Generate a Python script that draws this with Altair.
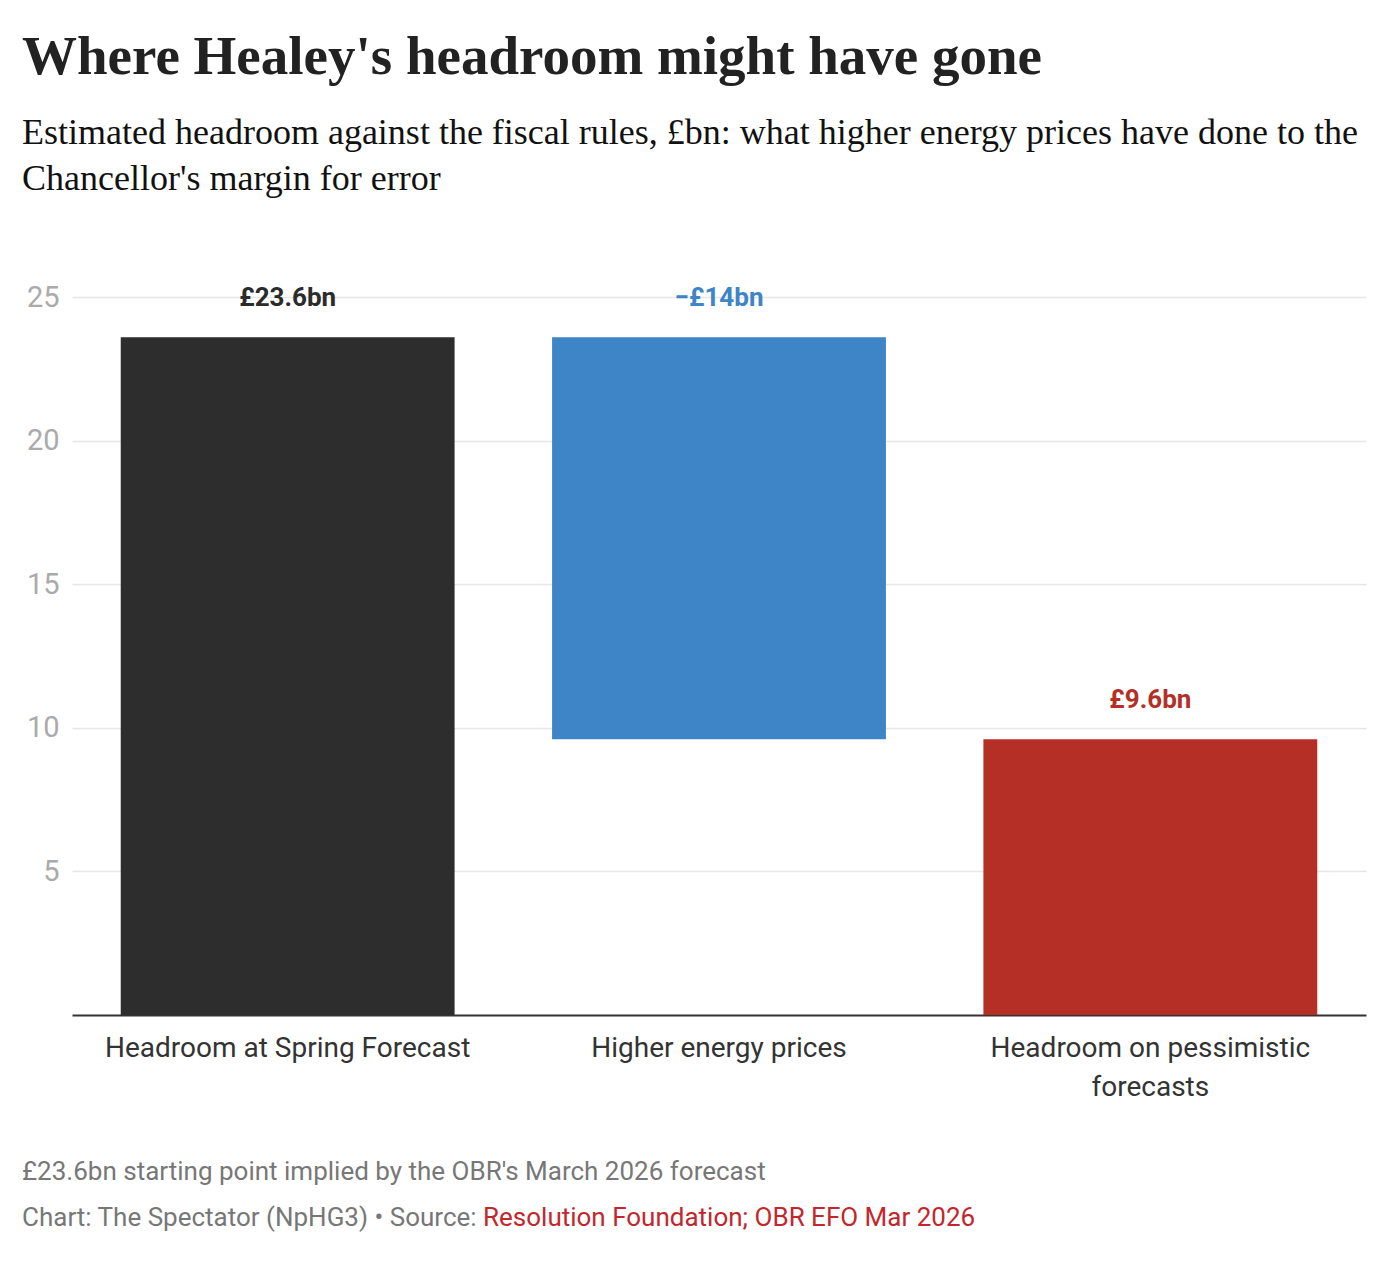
import altair as alt
import pandas as pd

categories = ["Headroom at Spring Forecast", "Higher energy prices", "Headroom on pessimistic forecasts"]
bar_start = [0.0, 9.6, 0.0]
bar_end = [23.6, 23.6, 9.6]
value_labels = ["£23.6bn", "\u2212£14bn", "£9.6bn"]
bar_colors = ["#2d2d2d", "#3d85c6", "#b52f27"]
label_colors = ["#2b2b2b", "#3d85c6", "#b52f27"]
y_ticks = [5, 10, 15, 20, 25]

title_text = "Where Healey's headroom might have gone"
subtitle_lines = [
    "Estimated headroom against the fiscal rules, £bn: what higher energy prices have done to the",
    "Chancellor's margin for error",
]
note_text = "£23.6bn starting point implied by the OBR's March 2026 forecast"
credit_text = "Chart: The Spectator (NpHG3) \u2022 Source: "
source_text = "Resolution Foundation; OBR EFO Mar 2026"

df = pd.DataFrame({
    "category": categories,
    "start": bar_start,
    "end": bar_end,
    "label": value_labels,
    "bar_color": bar_colors,
    "label_color": label_colors,
})
df["top"] = df[["start", "end"]].max(axis=1)

W, H = 1294, 718

x_enc = alt.X(
    "category:N",
    sort=categories,
    scale=alt.Scale(paddingInner=0.226, paddingOuter=0.113),
    axis=alt.Axis(
        title=None,
        labelAngle=0,
        labelFont="Roboto",
        labelFontSize=28,
        labelColor="#333333",
        labelPadding=19,
        labelLineHeight=39,
        labelLimit=500,
        ticks=False,
        grid=False,
        domainColor="#333333",
        domainWidth=2,
        labelExpr="datum.label == 'Headroom on pessimistic forecasts' ? ['Headroom on pessimistic', 'forecasts'] : datum.label",
    ),
)

y_scale = alt.Scale(domain=[0, 25], nice=False, zero=True)

bars = alt.Chart(df).mark_bar().encode(
    x=x_enc,
    y=alt.Y(
        "start:Q",
        scale=y_scale,
        axis=alt.Axis(
            title=None,
            values=y_ticks,
            domain=False,
            ticks=False,
            labelFont="Roboto",
            labelFontSize=29,
            labelColor="#aaaaaa",
            labelPadding=13,
            gridColor="#e6e6e6",
            gridWidth=1.5,
        ),
    ),
    y2="end:Q",
    color=alt.Color("bar_color:N", scale=None),
)

labels = alt.Chart(df).mark_text(
    font="Roboto", fontSize=26, fontWeight="bold", dy=-39, baseline="middle"
).encode(
    x=alt.X("category:N", sort=categories),
    y=alt.Y("top:Q", scale=y_scale),
    text="label:N",
    color=alt.Color("label_color:N", scale=None),
)

foot = pd.DataFrame({"t": [0]})
note = alt.Chart(foot).mark_text(
    font="Roboto", fontSize=26, color="#777777", align="left", baseline="middle"
).encode(x=alt.value(-50), y=alt.value(H + 157), text=alt.value(note_text))
credit = alt.Chart(foot).mark_text(
    font="Roboto", fontSize=26, color="#777777", align="left", baseline="middle"
).encode(x=alt.value(-50), y=alt.value(H + 203), text=alt.value(credit_text))
source = alt.Chart(foot).mark_text(
    font="Roboto", fontSize=26, color="#c4262c", align="left", baseline="middle"
).encode(x=alt.value(411), y=alt.value(H + 203), text=alt.value(source_text))

chart = alt.layer(bars, labels, note, credit, source).properties(
    width=W,
    height=H,
    background="white",
    autosize=alt.AutoSizeParams(type="none"),
    padding={"left": 64, "top": 289, "right": 22, "bottom": 250},
    title=alt.TitleParams(
        text=title_text,
        subtitle=subtitle_lines,
        anchor="start",
        frame="group",
        dx=-50,
        offset=85,
        font="Liberation Serif",
        fontSize=55,
        fontWeight="bold",
        color="#222222",
        subtitleFont="Liberation Serif",
        subtitleFontSize=36,
        subtitleColor="#111111",
        subtitleLineHeight=46,
        subtitlePadding=30,
    ),
).configure_view(strokeWidth=0, stroke="transparent")

chart.save("out.html", embed_options={"renderer": "svg", "actions": False})
